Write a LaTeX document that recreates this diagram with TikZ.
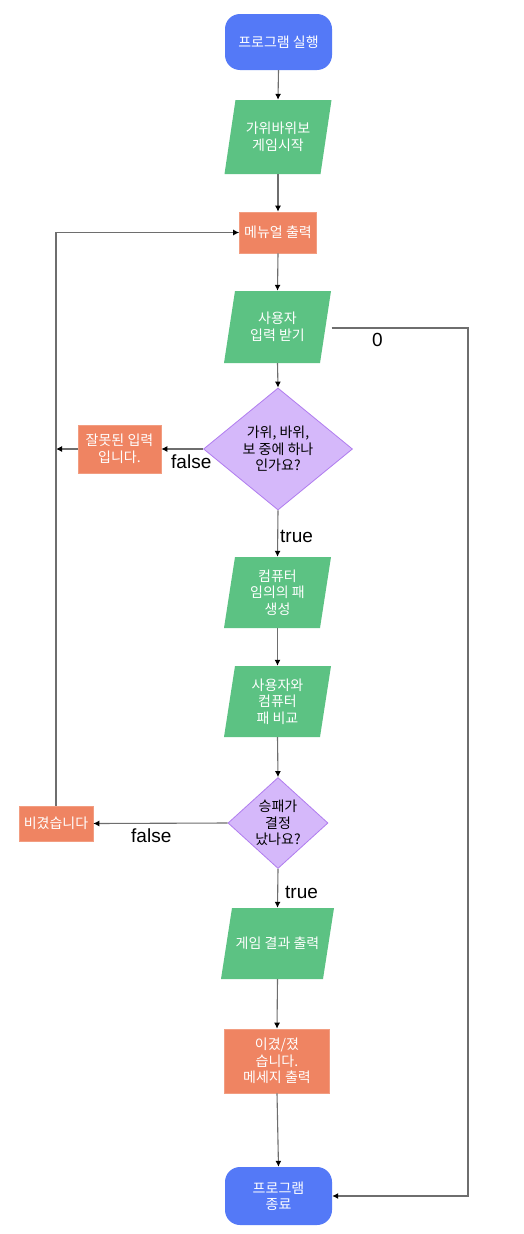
\documentclass[tikz,border=0pt]{standalone}
\usepackage{fontspec}
\setmainfont{Noto Sans CJK KR}
\newfontfamily\labfont{Liberation Sans}
\usetikzlibrary{shapes.geometric,arrows.meta}
\definecolor{cblue}{HTML}{5479F7}
\definecolor{cgreen}{HTML}{5CC283}
\definecolor{corange}{HTML}{EF8462}
\definecolor{cpurple}{HTML}{D5B8FA}
\definecolor{cpurpled}{HTML}{B07CEF}
\definecolor{clinec}{HTML}{6E6E6E}
\newcommand\iobox[6]{%
  \pgfmathsetmacro\ioh{#4-#3}\pgfmathsetmacro\iow{2*#5}\pgfmathsetmacro\ioy{(#3+#4)/2}%
  \fill[iofill] ({#2-#5+5.5},#3) -- ({#2+#5+5.5},#3) -- ({#2+#5-5.5},#4) -- ({#2-#5-5.5},#4) -- cycle;
  \node[iotext, minimum width=\iow pt, minimum height=\ioh pt] (#1) at (#2,\ioy) {#6};
}
\begin{document}
\begin{tikzpicture}[x=1pt,y=-1pt,
  font=\fontsize{14}{16.5}\selectfont,
  term/.style={rectangle, rounded corners=15pt, fill=cblue, text=white, align=center, inner sep=0pt},
  iofill/.style={fill=cgreen},
  iotext/.style={rectangle, inner sep=0pt, text=white, align=center},
  proc/.style={rectangle, fill=corange, draw=corange!80!white, line width=0.6pt, text=white, align=center, inner sep=0pt},
  dec/.style={diamond, fill=cpurple, draw=cpurpled, line width=0.8pt, text=black, align=center, inner sep=0pt},
  arr/.style={draw=clinec, line width=1.1pt, -{Latex[length=6pt,width=6pt,black]}},
  lab/.style={font=\labfont\fontsize{19}{22}\selectfont, text=black, inner sep=0pt, anchor=base west}]
\useasboundingbox (0,0) rectangle (524,1234);
\fill[white] (0,0) rectangle (524,1234);

\node[term, minimum width=107pt, minimum height=56pt] (start) at (278.5,42) {프로그램 실행};
\iobox{p1}{278}{100}{174}{48}{가위바위보\\게임시작}
\node[proc, minimum width=77pt, minimum height=41pt] (menu) at (278,232.5) {메뉴얼 출력};
\iobox{p2}{277.5}{291}{363}{48}{사용자\\입력 받기}
\node[dec, minimum width=149pt, minimum height=122pt] (d1) at (278,449) {가위, 바위,\\보 중에 하나\\인가요?};
\node[proc, minimum width=83pt, minimum height=48pt] (wrong) at (119.5,449) {잘못된 입력\\입니다.};
\iobox{p3}{277.5}{557}{628}{48}{컴퓨터\\임의의 패\\생성}
\iobox{p4}{277.5}{666}{737}{48}{사용자와\\컴퓨터\\패 비교}
\node[dec, minimum width=100pt, minimum height=90pt] (d2) at (278,823) {승패가\\결정\\났나요?};
\node[proc, minimum width=74pt, minimum height=35pt] (tie) at (56,823.5) {비겼습니다};
\iobox{p5}{277.5}{908}{979}{51}{게임 결과 출력}
\node[proc, minimum width=105pt, minimum height=64pt] (win) at (277,1061) {이겼/졌\\습니다.\\메세지 출력};
\node[term, minimum width=107pt, minimum height=58pt] (end) at (278.5,1196) {프로그램\\종료};

\coordinate (lw) at (56,449);
\coordinate (lt) at (56,232.5);
\coordinate (r1) at (468,328);
\coordinate (r2) at (468,1196);

\draw[arr] (start.south) -- (p1.north);
\draw[arr] (p1.south) -- (menu.north);
\draw[arr] (menu.south) -- (p2.north);
\draw[arr] (p2.south) -- (d1.north);
\draw[arr] (d1.west) -- (wrong.east);
\draw[arr] (wrong.west) -- (lw);
\draw[arr] (d1.south) -- (p3.north);
\draw[arr] (p3.south) -- (p4.north);
\draw[arr] (p4.south) -- (d2.north);
\draw[arr] (d2.west) -- (tie.east);
\draw[arr] (tie.north) -- (lt) -- (menu.west);
\draw[arr] (d2.south) -- (p5.north);
\draw[arr] (p5.south) -- (win.north);
\draw[arr] (win.south) -- (end.north);
\draw[arr] ([xshift=6pt]p2.east |- r1) -- (r1) -- (r2) -- (end.east);

\node[lab] (l0) at (372,346) {0};
\node[lab] (lf1) at (171,468) {false};
\node[lab] (lt1) at (280,542) {true};
\node[lab] (lf2) at (131,842) {false};
\node[lab] (lt2) at (285,898) {true};
\end{tikzpicture}
\end{document}
